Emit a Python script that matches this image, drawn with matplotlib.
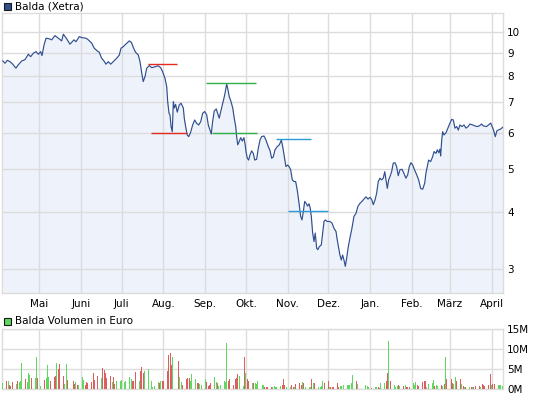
import matplotlib
matplotlib.use('Agg')
import matplotlib.pyplot as plt
import matplotlib.dates as mdates
from matplotlib.patches import Rectangle
from matplotlib.ticker import NullLocator
import numpy as np
import pandas as pd
import datetime as dt

# ---------------- data ----------------
start = dt.datetime(2008, 4, 3)   # day 0 of price_day
end_day = 371.5

price_day = [1.0, 2.6, 4.3, 6.3, 8.3, 10.7, 12.4, 15.0, 17.4, 19.9, 21.6, 23.6, 25.6, 27.3, 29.0, 30.0,
             31.5, 33.0, 35.4, 37.2, 39.6, 42.1, 44.6, 45.8, 48.3, 50.7, 53.7, 55.2, 57.6, 59.4, 62.6,
             64.3, 66.8, 68.7, 71.0, 72.4, 74.2, 75.9, 77.4, 79.1, 80.9, 82.8, 85.3, 87.3, 88.5, 90.2,
             92.2, 94.7, 96.3, 97.8, 99.3, 101.3, 102.6, 103.9, 105.0, 106.3, 107.6, 109.5, 111.3,
             113.7, 116.1, 117.9, 119.4, 121.1, 122.4, 123.1, 124.1, 124.8, 125.6, 126.5, 127.3,
             128.0, 129.0, 130.2, 131.7, 133.0, 134.7, 135.4, 136.4, 137.6, 138.7, 140.1, 141.6,
             143.1, 144.6, 146.1, 147.6, 149.0, 150.5, 152.0, 153.2, 154.4, 155.4, 156.4, 157.6,
             159.1, 160.1, 161.3, 162.4, 163.6, 164.8, 165.8, 166.8, 167.8, 168.7, 170.0, 171.3,
             172.4, 173.5, 174.2, 175.0, 175.9, 177.2, 178.4, 179.6, 180.6, 181.1, 182.1, 183.1,
             184.1, 185.3, 186.5, 187.6, 189.0, 190.2, 191.5, 192.7, 194.4, 195.9, 197.6, 198.9,
             200.1, 201.3, 202.6, 204.3, 205.8, 207.3, 208.3, 209.5, 210.7, 212.0, 213.0, 214.2,
             215.4, 216.7, 217.9, 219.1, 220.4, 221.6, 222.6, 223.6, 224.6, 225.6, 226.8, 227.8,
             228.7, 229.5, 230.5, 231.5, 232.4, 233.5, 234.4, 235.4, 236.9, 237.9, 238.9, 239.9,
             241.3, 243.3, 244.8, 246.3, 247.8, 248.7, 249.8, 250.7, 251.7, 252.7, 253.7, 254.7,
             255.7, 256.9, 258.1, 259.6, 261.1, 262.6, 264.1, 265.6, 267.0, 268.5, 270.0, 271.5,
             273.0, 274.4, 275.4, 276.7, 277.9, 279.1, 280.4, 281.6, 282.8, 283.9, 284.8, 285.8,
             286.8, 287.8, 289.0, 290.2, 291.5, 292.7, 293.9, 295.2, 296.7, 298.1, 299.6, 300.9,
             302.1, 303.3, 304.6, 305.8, 307.6, 309.0, 310.5, 312.0, 313.5, 314.4, 315.4, 316.4,
             317.9, 319.4, 320.4, 321.9, 322.8, 323.9, 324.8, 325.3, 326.1, 326.8, 327.8, 329.3,
             330.7, 332.2, 333.5, 334.7, 335.9, 337.2, 338.4, 339.6, 341.1, 342.6, 344.1, 345.6,
             347.0, 349.0, 350.7, 352.4, 353.9, 355.7, 356.9, 359.3, 362.4, 364.5, 365.8, 367.0,
             369.6, 371.5]

price = [8.64, 8.54, 8.67, 8.61, 8.50, 8.33, 8.47, 8.64, 8.70, 8.94, 8.83, 8.99, 9.06, 8.94, 9.06, 8.88,
         9.37, 9.70, 9.67, 9.62, 9.83, 9.70, 9.57, 9.90, 9.67, 9.41, 9.62, 9.53, 9.78, 9.73, 9.70,
         9.62, 9.46, 9.22, 9.09, 9.03, 8.76, 8.64, 8.50, 8.61, 8.50, 8.61, 8.76, 8.91, 9.22, 9.29,
         9.42, 9.57, 9.49, 9.23, 9.03, 8.91, 8.61, 8.12, 7.78, 7.98, 8.33, 8.44, 8.35,
         8.39, 8.43, 8.35, 8.18, 7.91, 7.58, 7.03, 6.62, 6.57, 6.19, 6.03, 7.03,
         6.80, 6.93, 6.66, 6.91, 6.97, 6.80, 6.46, 6.19, 5.93, 5.88, 6.01, 6.24,
         6.40, 6.29, 6.24, 6.35, 6.62, 6.68, 6.57, 6.24, 6.08, 5.96, 6.35, 6.70,
         6.77, 6.62, 6.46, 6.68, 6.91, 7.15, 7.39, 7.69, 7.46, 7.21, 7.03, 6.80,
         6.46, 6.19, 5.88, 5.64, 5.72, 5.85, 5.75, 5.85, 5.62, 5.45, 5.27, 5.22,
         5.36, 5.47, 5.40, 5.22, 5.24, 5.54, 5.78, 5.88, 5.90, 5.78, 5.59, 5.48,
         5.27, 5.30, 5.50, 5.59, 5.64, 5.78, 5.59, 5.31, 5.05, 5.09, 5.05, 4.97,
         4.72, 4.68, 4.68, 4.48, 4.19, 3.92, 3.85, 4.02, 4.23, 4.19, 4.13, 4.18,
         4.09, 3.92, 3.60, 3.45, 3.60, 3.33, 3.31, 3.36, 3.39, 3.60, 3.82, 3.85,
         3.82, 3.82, 3.79, 3.69, 3.63, 3.48, 3.33, 3.22, 3.14, 3.22, 3.14, 3.04,
         3.17, 3.36, 3.51, 3.69, 3.92, 3.98, 4.13, 4.19, 4.23, 4.28, 4.33, 4.28,
         4.32, 4.26, 4.16, 4.26, 4.41, 4.68, 4.76, 4.72, 4.76, 4.92, 4.72, 4.52,
         4.72, 4.80, 4.92, 5.14, 5.15, 5.05, 4.82, 4.97, 4.98, 4.88, 4.76, 4.84,
         5.05, 5.15, 5.09, 4.98, 4.84, 4.72, 4.52, 4.50, 4.64, 4.88, 5.05, 5.22,
         5.18, 5.31, 5.45, 5.40, 5.50, 5.42, 5.52, 5.33, 5.78, 6.03, 5.93, 6.00,
         6.14, 6.30, 6.42, 6.40, 6.14, 6.19, 6.08, 6.24, 6.19, 6.24, 6.14, 6.19,
         6.27, 6.24, 6.21, 6.19, 6.21, 6.27, 6.21, 6.19, 6.30, 6.08, 5.88, 6.06,
         6.11, 6.17]

# marker lines: (start day, end day, level, colour)
ref_start = [108.7, 110.7, 151.3, 155.7, 203.3, 212.4]
ref_end = [129.8, 137.2, 188.4, 189.4, 229.0, 242.1]
ref_level = [8.50, 5.98, 7.72, 5.98, 5.80, 4.02]
ref_color = ['#e32a22', '#e32a22', '#2fae4c', '#2fae4c', '#2b9ad8', '#2b9ad8']

# daily volume in million EUR and direction (g = up, r = down, n = unchanged)
volume = [1.7, 2.2, 2.2, 1.1, 0.8, 1.9, 1.3, 2.2, 1.9, 2.2, 6.7, 2.5, 1.9, 4.2, 3.7, 2.75, 2.75, 8.2, 2.75, 0.8,
          2.3, 2.9, 6.2, 3.0, 2.2, 3.2, 3.4, 6.7, 5.2, 6.4, 3.4, 1.4, 6.4, 2.4, 2.4, 2.2, 1.4, 1.9, 1.2, 1.2,
          3.0, 2.3, 1.2, 1.9, 1.7, 1.9, 4.2, 2.4, 2.9, 3.4, 2.75, 5.4, 4.9, 4.2, 2.9, 3.4, 1.9, 3.2, 1.4, 2.2,
          2.2, 2.4, 2.4, 1.9,
          2.2, 3.2, 2.7, 2.0, 2.2, 4.4, 2.0, 4.7, 5.7, 4.2, 4.5, 5.2, 2.5, 2.0, 0.7, 0.9, 1.9, 1.7, 2.2, 2.2,
          2.2, 4.7, 8.7, 9.2, 6.0, 8.0, 6.9, 7.2, 3.2, 1.9, 1.2, 2.5, 2.9, 2.9, 2.0, 3.9, 2.7, 1.7, 1.7, 1.4,
          1.2, 2.5, 1.9, 0.9, 1.2, 1.5, 3.2, 1.9, 1.7, 0.8, 1.2, 2.0, 1.9, 11.7, 2.2, 2.7, 1.2, 2.5, 2.9, 3.9,
          3.4, 0.9, 8.2,
          4.2, 2.5, 2.0, 1.7, 1.7, 1.5, 1.3, 2.0, 1.2, 1.2, 0.7, 0.7, 0.7, 0.5, 0.7, 0.9, 0.7, 0.7, 0.9, 1.2,
          2.5, 1.2, 0.5, 0.5, 1.2, 0.7, 0.7, 1.4, 1.7, 1.2, 1.9, 1.7, 0.7, 0.7, 0.7, 2.7, 1.7, 1.7, 0.7, 0.5,
          0.9, 2.0, 1.5, 2.0, 0.7, 0.5, 0.7, 0.7, 1.7, 0.5, 0.9, 0.9, 1.2, 1.2, 1.2, 1.2, 1.5, 3.7, 2.0, 1.4,
          1.0, 0.9, 0.7,
          0.3, 0.5, 0.7, 0.5, 0.3, 1.5, 1.7, 2.0, 4.2, 12.2, 2.2, 1.2, 0.7, 0.9, 1.2, 0.9, 0.9, 1.2, 0.7, 0.7,
          0.7, 1.5, 1.2, 1.9, 1.2, 0.9, 1.9, 2.2, 2.2, 0.7, 1.4, 1.7, 2.4, 0.9, 1.2, 0.9, 1.2, 0.9, 1.4, 8.2,
          2.7, 2.7, 1.7, 1.4, 3.2, 2.2, 2.5, 1.4, 0.9, 0.5, 0.5, 0.7, 0.5, 0.5, 0.5, 0.9, 0.9, 0.5, 1.4, 1.2,
          0.9,
          1.2, 3.8, 1.2, 1.4, 1.4, 1.2, 1.2, 1.2, 0.9]

direction = ("grgrrrgrgg" "grgggrggrg" "rgggrrrgrr" "rggrrrrgrg" "ggrrrrrrrr" "grrrrrgrrg" "gggg"
             "gggrrrgrrr" "ggrggggrgr" "rrrrrgrrgg" "rrrrgggrrg" "ggrrrrggrg" "ggggrrrrrr" "ggr"
             "grrgrggggg" "rrrrgggggr" "rrggrrgrrr" "grgggrgrgg" "ggrrgrrrrr" "ggggggggrg" "ggg"
             "rggrrggrrg" "rgggrgrgrr" "rgggrrrrrn" "gggrggrgrg" "rrrggrrgrg" "rgrgrrrgrr" "r"
             "rrgrrgggg")

holidays = ['2008-05-01', '2008-12-24', '2008-12-25', '2008-12-26', '2009-01-01']
trade_days = pd.bdate_range('2008-04-04', '2009-04-09', freq='C', holidays=holidays)

month_starts = pd.date_range('2008-05-01', '2009-04-01', freq='MS')
month_labels = ['Mai', 'Juni', 'Juli', 'Aug.', 'Sep.', 'Okt.', 'Nov.', 'Dez.', 'Jan.', 'Feb.', 'März', 'April']
price_ticks = [3, 4, 5, 6, 7, 8, 9, 10]
vol_ticks = [0, 5, 10, 15]
vol_tick_labels = ['0M', '5M', '10M', '15M']

# ---------------- styling ----------------
plt.rcParams['font.family'] = ['DejaVu Sans']
W, H = 545, 398
LINE = '#2f4f8f'
FILL = '#eef2fa'
GRID = '#dcdcdc'
FS = 7.5
colmap = {'g': '#5ed85e', 'r': '#dc5f5f', 'n': '#b0b0b0'}

fig = plt.figure(figsize=(W / 100, H / 100), dpi=100)
fig.patch.set_facecolor('white')

x0 = mdates.date2num(start)
xmin, xmax = x0 + 0.67, x0 + end_day
left, right = 2.4, 503.0

# main price panel
ax = fig.add_axes([left / W, 1 - 293.3 / H, (right - left) / W, 280 / H])
ax.set_yscale('log')
ymin, ymax = 2.651, 11.01
px = x0 + np.array(price_day)
ax.fill_between(px, price, ymin, color=FILL, lw=0, zorder=1)
ax.plot(px, price, color=LINE, lw=0.85, zorder=3)
for s, e, lv, c in zip(ref_start, ref_end, ref_level, ref_color):
    ax.hlines(lv, x0 + s, x0 + e, color=c, lw=1.0, zorder=4)
ax.set_xlim(xmin, xmax)
ax.set_ylim(ymin, ymax)
ax.yaxis.tick_right()
ax.set_yticks(price_ticks)
ax.set_yticklabels([str(t) for t in price_ticks])
ax.yaxis.set_minor_locator(NullLocator())
ax.set_xticks(mdates.date2num(month_starts))
ax.set_xticklabels(month_labels)
ax.tick_params(axis='both', length=0, labelsize=FS, colors='black')
ax.tick_params(axis='y', pad=3)
ax.tick_params(axis='x', pad=4)
ax.grid(True, color=GRID, lw=1.0)
for sp in ax.spines.values():
    sp.set_color(GRID)
    sp.set_linewidth(1.0)

# legend-like headers
fig.add_artist(Rectangle((3.5 / W, 1 - 9.7 / H), 7 / W, 7 / H, transform=fig.transFigure,
                         fc=LINE, ec='#1a1a1a', lw=0.8))
fig.text(15.0 / W, 1 - 6.3 / H, 'Balda (Xetra)', va='center', ha='left', fontsize=FS)
fig.add_artist(Rectangle((3.5 / W, 1 - 325.0 / H), 7 / W, 7 / H, transform=fig.transFigure,
                         fc='#5ed85e', ec='#1a1a1a', lw=0.8))
fig.text(15.0 / W, 1 - 321.5 / H, 'Balda Volumen in Euro', va='center', ha='left', fontsize=FS)

# volume panel
vx = fig.add_axes([left / W, 1 - 389.3 / H, (right - left) / W, 60 / H])
n = min(len(trade_days), len(volume), len(direction))
vdates = mdates.date2num(trade_days[:n])
vx.bar(vdates, volume[:n], width=0.72, color=[colmap[c] for c in direction[:n]], lw=0,
       antialiased=False, zorder=3)
vx.set_xlim(xmin, xmax)
vx.set_ylim(0, 15)
vx.yaxis.tick_right()
vx.set_yticks(vol_ticks)
vx.set_yticklabels(vol_tick_labels)
vx.set_xticks(mdates.date2num(month_starts))
vx.set_xticklabels([])
vx.tick_params(axis='both', length=0, labelsize=FS, colors='black')
vx.tick_params(axis='y', pad=3)
vx.grid(True, color=GRID, lw=1.0, zorder=0)
vx.set_axisbelow(True)
for sp in vx.spines.values():
    sp.set_color(GRID)
    sp.set_linewidth(1.0)

fig.savefig('out.png', dpi=100)
